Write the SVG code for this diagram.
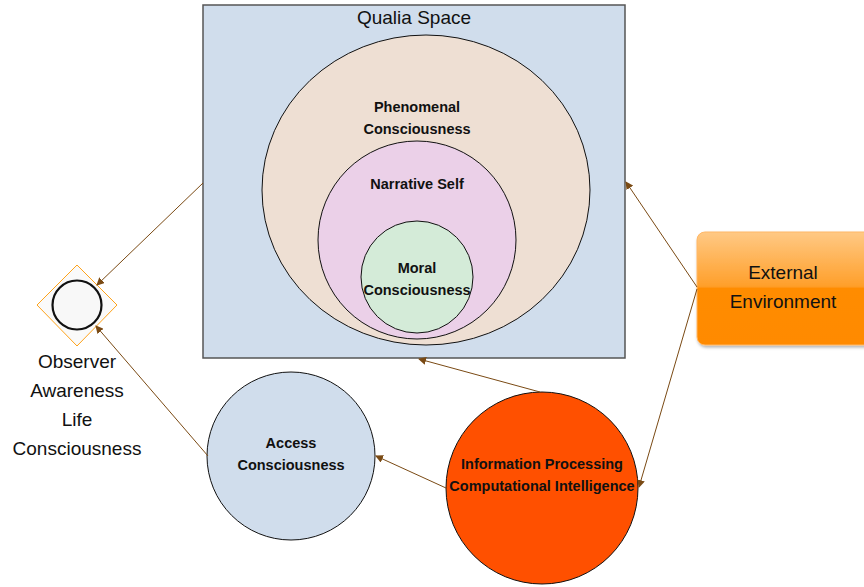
<svg xmlns="http://www.w3.org/2000/svg" width="864" height="587" viewBox="0 0 864 587">
<defs>
<marker id="arr" markerWidth="8" markerHeight="8" refX="7" refY="4" orient="auto" markerUnits="userSpaceOnUse">
<path d="M0,0 L8,4 L0,8 z" fill="#7a4a14"/>
</marker>
<linearGradient id="ext" x1="0" y1="0" x2="0" y2="1">
<stop offset="0" stop-color="#ffc985"/>
<stop offset="0.48" stop-color="#ff9f2a"/>
<stop offset="0.5" stop-color="#ff8c00"/>
<stop offset="1" stop-color="#ff8a00"/>
</linearGradient>
<filter id="sh" x="-10%" y="-10%" width="130%" height="130%">
<feDropShadow dx="1" dy="2" stdDeviation="1.5" flood-color="#000" flood-opacity="0.3"/>
</filter>
</defs>
<style>
.b{font-family:"Liberation Sans",Arial,sans-serif;font-weight:bold;font-size:14.5px;fill:#111;text-anchor:middle}
.n{font-family:"Liberation Sans",Arial,sans-serif;font-size:19px;fill:#111;text-anchor:middle}
.c{fill:none;stroke:#7a4a14;stroke-width:1;marker-end:url(#arr)}
.o{stroke:#111;stroke-width:1}
</style>
<rect width="864" height="587" fill="#fff"/>
<g id="qualia">
<rect x="203" y="5" width="422" height="353" fill="#d0ddec" stroke="#555" stroke-width="1.5"/>
<text class="n" x="414" y="24">Qualia Space</text>
</g>
<g id="phenomenal">
<ellipse cx="426" cy="190" rx="164" ry="155" fill="#eedfd3" class="o"/>
<text class="b" x="417" y="112">Phenomenal</text>
<text class="b" x="417" y="134">Consciousness</text>
</g>
<g id="narrative">
<circle cx="417" cy="240" r="99" fill="#ebd0e8" class="o"/>
<text class="b" x="417" y="189">Narrative Self</text>
</g>
<g id="moral">
<circle cx="417" cy="277" r="56" fill="#d4ebd8" class="o"/>
<text class="b" x="417" y="273">Moral</text>
<text class="b" x="417" y="295">Consciousness</text>
</g>
<g id="observer">
<path d="M77,265 L117,305 L77,346 L37,305 z" fill="#fafafa" stroke="#ffa31a" stroke-width="1"/>
<circle cx="77" cy="305" r="24.5" fill="#f8f8f8" stroke="#111" stroke-width="2.2"/>
<text class="n" x="77" y="368">Observer</text>
<text class="n" x="77" y="397">Awareness</text>
<text class="n" x="77" y="426">Life</text>
<text class="n" x="77" y="455">Consciousness</text>
</g>
<g id="access">
<circle cx="291" cy="456" r="84" fill="#d0ddec" class="o"/>
<text class="b" x="291" y="448">Access</text>
<text class="b" x="291" y="470">Consciousness</text>
</g>
<g id="info">
<circle cx="542" cy="488" r="96" fill="#ff5000" class="o"/>
<text class="b" x="542" y="469">Information Processing</text>
<text class="b" x="542" y="491">Computational Intelligence</text>
</g>
<g id="external">
<rect x="697" y="232" width="180" height="113" rx="8" fill="url(#ext)" stroke="#ffb766" stroke-width="1" filter="url(#sh)"/>
<text class="n" x="783" y="279">External</text>
<text class="n" x="783" y="308">Environment</text>
</g>
<g id="connectors">
<line class="c" x1="203" y1="183" x2="97" y2="285"/>
<line class="c" x1="208" y1="456" x2="96" y2="326"/>
<line class="c" x1="540" y1="392" x2="419" y2="359"/>
<line class="c" x1="446" y1="488" x2="376" y2="456"/>
<line class="c" x1="697" y1="287" x2="626" y2="182"/>
<line class="c" x1="697" y1="289" x2="639" y2="487"/>
</g>
</svg>
